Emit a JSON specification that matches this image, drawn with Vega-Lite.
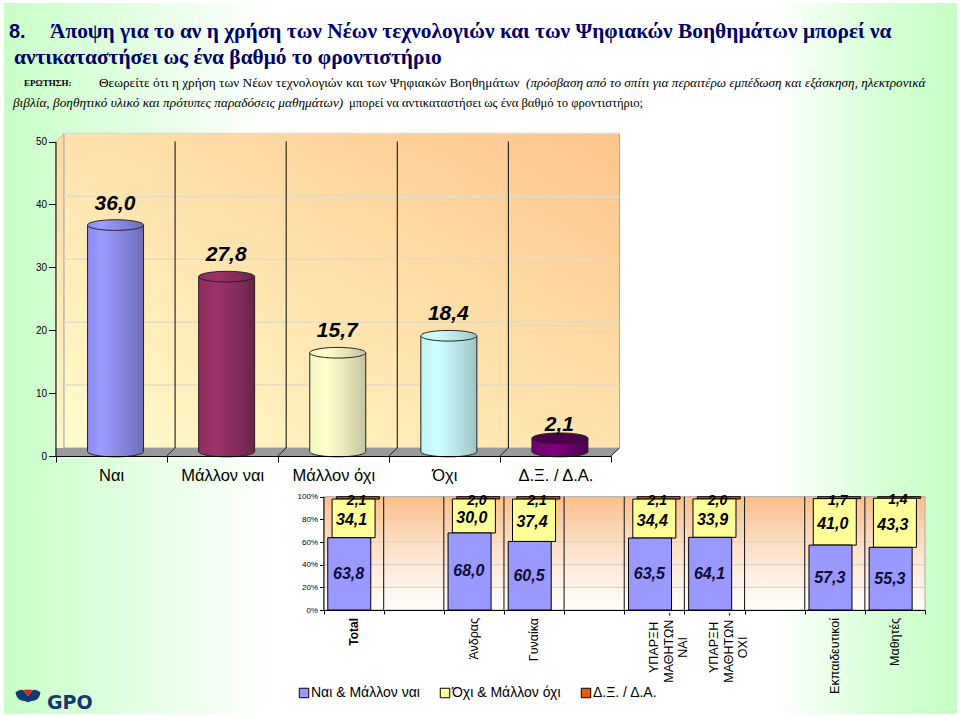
{
"$schema":"https://vega.github.io/schema/vega-lite/v6.json",
"width":960,"height":716,"padding":0,"autosize":{"type":"none"},"background":"white",
"config":{"view":{"stroke":null},"font":"Liberation Sans"},
"datasets":{
"summary":[{"c":"Ναι","v":36.0,"label":"36,0"},{"c":"Μάλλον ναι","v":27.8,"label":"27,8"},{"c":"Μάλλον όχι","v":15.7,"label":"15,7"},{"c":"Όχι","v":18.4,"label":"18,4"},{"c":"Δ.Ξ. / Δ.Α.","v":2.1,"label":"2,1"}],
"ticks50":[{"v":10},{"v":20},{"v":30},{"v":40},{"v":50}],
"edges5":[{"i":1},{"i":2},{"i":3},{"i":4}],
"breakdown":[
{"c":"Total","s":1,"series":"Ναι & Μάλλον ναι","v":63.8,"label":"63,8"},{"c":"Total","s":2,"series":"Όχι & Μάλλον όχι","v":34.1,"label":"34,1"},{"c":"Total","s":3,"series":"Δ.Ξ. / Δ.Α.","v":2.1,"label":"2,1"},
{"c":"Άνδρας","s":1,"series":"Ναι & Μάλλον ναι","v":68.0,"label":"68,0"},{"c":"Άνδρας","s":2,"series":"Όχι & Μάλλον όχι","v":30.0,"label":"30,0"},{"c":"Άνδρας","s":3,"series":"Δ.Ξ. / Δ.Α.","v":2.0,"label":"2,0"},
{"c":"Γυναίκα","s":1,"series":"Ναι & Μάλλον ναι","v":60.5,"label":"60,5"},{"c":"Γυναίκα","s":2,"series":"Όχι & Μάλλον όχι","v":37.4,"label":"37,4"},{"c":"Γυναίκα","s":3,"series":"Δ.Ξ. / Δ.Α.","v":2.1,"label":"2,1"},
{"c":"ΥΠΑΡΞΗ ΜΑΘΗΤΩΝ - ΝΑΙ","s":1,"series":"Ναι & Μάλλον ναι","v":63.5,"label":"63,5"},{"c":"ΥΠΑΡΞΗ ΜΑΘΗΤΩΝ - ΝΑΙ","s":2,"series":"Όχι & Μάλλον όχι","v":34.4,"label":"34,4"},{"c":"ΥΠΑΡΞΗ ΜΑΘΗΤΩΝ - ΝΑΙ","s":3,"series":"Δ.Ξ. / Δ.Α.","v":2.1,"label":"2,1"},
{"c":"ΥΠΑΡΞΗ ΜΑΘΗΤΩΝ - ΟΧΙ","s":1,"series":"Ναι & Μάλλον ναι","v":64.1,"label":"64,1"},{"c":"ΥΠΑΡΞΗ ΜΑΘΗΤΩΝ - ΟΧΙ","s":2,"series":"Όχι & Μάλλον όχι","v":33.9,"label":"33,9"},{"c":"ΥΠΑΡΞΗ ΜΑΘΗΤΩΝ - ΟΧΙ","s":3,"series":"Δ.Ξ. / Δ.Α.","v":2.0,"label":"2,0"},
{"c":"Εκπαιδευτικοί","s":1,"series":"Ναι & Μάλλον ναι","v":57.3,"label":"57,3"},{"c":"Εκπαιδευτικοί","s":2,"series":"Όχι & Μάλλον όχι","v":41.0,"label":"41,0"},{"c":"Εκπαιδευτικοί","s":3,"series":"Δ.Ξ. / Δ.Α.","v":1.7,"label":"1,7"},
{"c":"Μαθητές","s":1,"series":"Ναι & Μάλλον ναι","v":55.3,"label":"55,3"},{"c":"Μαθητές","s":2,"series":"Όχι & Μάλλον όχι","v":43.3,"label":"43,3"},{"c":"Μαθητές","s":3,"series":"Δ.Ξ. / Δ.Α.","v":1.4,"label":"1,4"}
],
"groups":[{"c":"Total","name":"Total","kind":"bold"},{"c":"Άνδρας","name":"Άνδρας","kind":"one"},{"c":"Γυναίκα","name":"Γυναίκα","kind":"one"},{"c":"ΥΠΑΡΞΗ ΜΑΘΗΤΩΝ - ΝΑΙ","name":"ΥΠΑΡΞΗ|ΜΑΘΗΤΩΝ -|ΝΑΙ","kind":"multi"},{"c":"ΥΠΑΡΞΗ ΜΑΘΗΤΩΝ - ΟΧΙ","name":"ΥΠΑΡΞΗ|ΜΑΘΗΤΩΝ -|ΟΧΙ","kind":"multi"},{"c":"Εκπαιδευτικοί","name":"Εκπαιδευτικοί","kind":"one"},{"c":"Μαθητές","name":"Μαθητές","kind":"one"}],
"ticks100":[{"v":20},{"v":40},{"v":60},{"v":80}],
"edges10":[{"i":1},{"i":2},{"i":3},{"i":4},{"i":5},{"i":6},{"i":7},{"i":8},{"i":9}]
},
"resolve":{"scale":{"x":"independent","y":"independent"},"axis":{"x":"independent","y":"independent"}},
"layer":[
{"data":{"values":[{}]},"mark":{"type":"rect","x":4,"x2":957,"y":3,"y2":714,"fill":{"gradient":"linear","x1":0,"y1":0,"x2":1,"y2":0,"stops":[{"offset":0,"color":"#c8ffc8"},{"offset":0.28,"color":"#ffffff"},{"offset":0.81,"color":"#ffffff"},{"offset":0.92,"color":"#d6ffd6"},{"offset":1,"color":"#c6ffc6"}]}},"encoding":{}},

{"layer":[
{"data":{"values":[{"px":0,"a":0,"b":50},{"px":0.0766,"a":1.27,"b":51.27}]},
 "mark":{"type":"area","fill":{"gradient":"linear","x1":0,"y1":1,"x2":0,"y2":0,"stops":[{"offset":0,"color":"#fff6c8"},{"offset":1,"color":"#fdd9a4"}]},"stroke":"#a8a090","strokeWidth":0.5},
 "encoding":{"x":{"field":"px","type":"quantitative","axis":null,"scale":{"domain":[0,5],"range":[55.5,611],"nice":false,"zero":false}},"y":{"field":"a","type":"quantitative","axis":null,"scale":{"domain":[0,50],"range":[456,141.5],"nice":false,"zero":false}},"y2":{"field":"b"}}},
{"data":{"values":[{}]},
 "mark":{"type":"rect","xOffset":8.5,"x2Offset":8.5,"yOffset":-8,"y2Offset":-8,"stroke":"#a8a8a8","strokeWidth":1,"fill":{"gradient":"linear","x1":0,"y1":1,"x2":1,"y2":0,"stops":[{"offset":0,"color":"#fffccc"},{"offset":0.5,"color":"#ffe2ad"},{"offset":1,"color":"#fcc48b"}]}},
 "encoding":{"x":{"datum":0,"type":"quantitative","axis":null},"x2":{"datum":5},"y":{"datum":0,"type":"quantitative","axis":null},"y2":{"datum":50}}},
{"data":{"name":"ticks50"},"mark":{"type":"rule","color":"#e2dcc4","strokeWidth":1.5,"xOffset":8.5,"x2Offset":8.5,"yOffset":-8},
 "encoding":{"x":{"datum":0,"type":"quantitative","axis":null},"x2":{"datum":5},"y":{"field":"v","type":"quantitative","axis":null}}},
{"data":{"values":[{"px":0,"a":1.27,"b":0},{"px":0.0766,"a":1.27,"b":0},{"px":5,"a":1.27,"b":0},{"px":5.0766,"a":1.27,"b":1.27}]},
 "mark":{"type":"area","fill":"#999999"},
 "encoding":{"x":{"field":"px","type":"quantitative","axis":null},"y":{"field":"a","type":"quantitative","axis":null},"y2":{"field":"b"}}},
{"data":{"name":"edges5"},"mark":{"type":"rule","color":"#1c1c1c","strokeWidth":1.1,"xOffset":8.5,"x2Offset":8.5,"yOffset":-8},
 "encoding":{"x":{"field":"i","type":"quantitative","axis":null},"y":{"datum":0,"type":"quantitative","axis":null},"y2":{"datum":50}}},
{"data":{"values":[{"i":1,"j":1.0766},{"i":2,"j":2.0766},{"i":3,"j":3.0766},{"i":4,"j":4.0766},{"i":5,"j":5.0766}]},"mark":{"type":"rule","color":"#222222","strokeWidth":1,"y2Offset":-8},
 "encoding":{"x":{"field":"i","type":"quantitative","axis":null},"x2":{"field":"j"},"y":{"datum":0,"type":"quantitative","axis":null},"y2":{"datum":0}}}
]},

{"data":{"name":"summary"},
 "encoding":{
  "x":{"field":"c","type":"nominal","sort":null,"title":null,"scale":{"type":"band","domain":["Ναι","Μάλλον ναι","Μάλλον όχι","Όχι","Δ.Ξ. / Δ.Α."],"range":[55.5,611],"paddingInner":0,"paddingOuter":0},"axis":{"orient":"bottom","offset":-260,"zindex":1,"tickBand":"extent","labelAngle":0,"labelFontSize":16.5,"labelColor":"#000000","labelPadding":5,"tickSize":6,"tickColor":"#000000","domainColor":"#000000","labelOverlap":false,"labelLimit":0,"labelFont":"Liberation Sans"}},
  "y":{"field":"v","type":"quantitative","title":null,"scale":{"domain":[0,50],"range":[456,141.5],"nice":false},"axis":{"orient":"left","offset":-55.5,"zindex":1,"values":[0,10,20,30,40,50],"grid":false,"labelFontSize":10,"labelColor":"#000000","tickSize":7,"labelPadding":2,"tickColor":"#000000","domainColor":"#000000"}},
  "fill":{"condition":[
   {"test":"datum.c==='Ναι'","value":{"gradient":"linear","x1":0,"y1":0,"x2":1,"y2":0,"stops":[{"offset":0,"color":"#8c8cf0"},{"offset":0.25,"color":"#9c9cff"},{"offset":0.7,"color":"#8080d8"},{"offset":1,"color":"#6c6cb4"}]}},
   {"test":"datum.c==='Μάλλον ναι'","value":{"gradient":"linear","x1":0,"y1":0,"x2":1,"y2":0,"stops":[{"offset":0,"color":"#8e2e60"},{"offset":0.3,"color":"#9c3366"},{"offset":0.7,"color":"#842c5a"},{"offset":1,"color":"#682448"}]}},
   {"test":"datum.c==='Μάλλον όχι'","value":{"gradient":"linear","x1":0,"y1":0,"x2":1,"y2":0,"stops":[{"offset":0,"color":"#f4f4c4"},{"offset":0.3,"color":"#ffffcc"},{"offset":0.7,"color":"#e0e0b4"},{"offset":1,"color":"#c4c4a0"}]}},
   {"test":"datum.c==='Όχι'","value":{"gradient":"linear","x1":0,"y1":0,"x2":1,"y2":0,"stops":[{"offset":0,"color":"#c4f4f4"},{"offset":0.3,"color":"#ccffff"},{"offset":0.7,"color":"#b4e0e0"},{"offset":1,"color":"#9cc4c8"}]}}
  ],"value":{"gradient":"linear","x1":0,"y1":0,"x2":1,"y2":0,"stops":[{"offset":0,"color":"#700070"},{"offset":0.4,"color":"#800080"},{"offset":1,"color":"#4c004c"}]}}
 },
 "layer":[
 {"mark":{"type":"point","filled":true,"opacity":1,"stroke":"#222222","strokeWidth":1,"size":3136,"xOffset":4.5,"yOffset":-4.5,"shape":"M-1,0A1,0.19,0,1,1,1,0A1,0.19,0,1,1,-1,0Z"},"encoding":{"y":{"datum":0,"type":"quantitative"}}},
 {"mark":{"type":"bar","width":56,"xOffset":4.5,"x2Offset":4.5,"yOffset":-4.5,"y2Offset":-4.5},"encoding":{"y2":{"datum":0}}},
 {"mark":{"type":"rule","color":"#222222","xOffset":-23.5,"yOffset":-4.5,"y2Offset":-4.5},"encoding":{"y2":{"datum":0},"fill":{"value":null}}},
 {"mark":{"type":"rule","color":"#222222","xOffset":32.5,"yOffset":-4.5,"y2Offset":-4.5},"encoding":{"y2":{"datum":0},"fill":{"value":null}}},
 {"mark":{"type":"point","filled":true,"opacity":1,"stroke":"#222222","strokeWidth":1,"size":3136,"xOffset":4.5,"yOffset":-4.5,"shape":"M-1,0A1,0.19,0,1,1,1,0A1,0.19,0,1,1,-1,0Z"},
  "encoding":{"fill":{"field":"c","type":"nominal","legend":null,"scale":{"domain":["Ναι","Μάλλον ναι","Μάλλον όχι","Όχι","Δ.Ξ. / Δ.Α."],"range":["#7878bc","#6e264e","#c8c8a8","#9cc4c8","#4a004a"]}}}},
 {"transform":[{"filter":"datum.v>5"}],"mark":{"type":"text","font":"Liberation Sans","fontWeight":"bold","fontStyle":"italic","fontSize":21,"xOffset":4,"yOffset":-26,"color":"#000000"},"encoding":{"text":{"field":"label"},"fill":{"value":"#000000"}}},
 {"transform":[{"filter":"datum.v<=5"}],"mark":{"type":"text","font":"Liberation Sans","fontWeight":"bold","fontStyle":"italic","fontSize":21,"xOffset":4,"yOffset":-18,"color":"#000000"},"encoding":{"text":{"field":"label"},"fill":{"value":"#000000"}}}
 ]},

{"layer":[
{"data":{"values":[{}]},"mark":{"type":"rect","stroke":"#b0a8a0","strokeWidth":1,"fill":{"gradient":"linear","x1":0,"y1":0,"x2":0,"y2":1,"stops":[{"offset":0,"color":"#fcc08a"},{"offset":0.45,"color":"#fde0c8"},{"offset":1,"color":"#ffffff"}]}},
 "encoding":{"x":{"datum":0,"type":"quantitative","axis":null,"scale":{"domain":[0,10],"range":[323.5,925],"nice":false,"zero":false}},"x2":{"datum":10},"y":{"datum":0,"type":"quantitative","axis":null,"scale":{"domain":[0,100],"range":[610,496.7],"nice":false,"zero":false}},"y2":{"datum":100}}},
{"data":{"name":"ticks100"},"mark":{"type":"rule","color":"#d8d2ca","strokeWidth":1.2},"encoding":{"x":{"datum":0,"type":"quantitative","axis":null},"x2":{"datum":10},"y":{"field":"v","type":"quantitative","axis":null}}},
{"data":{"name":"edges10"},"mark":{"type":"rule","color":"#222222","strokeWidth":1.1},"encoding":{"x":{"field":"i","type":"quantitative","axis":null},"y":{"datum":0,"type":"quantitative","axis":null},"y2":{"datum":100}}}
]},

{"data":{"name":"breakdown"},
 "transform":[{"stack":"v","groupby":["c"],"sort":[{"field":"s","order":"ascending"}],"as":["y0","y1"]},{"calculate":"(datum.y0+datum.y1)/2","as":"mid"}],
 "encoding":{
  "x":{"field":"c","type":"nominal","sort":null,"title":null,"scale":{"type":"band","domain":["Total","κενό 1","Άνδρας","Γυναίκα","κενό 2","ΥΠΑΡΞΗ ΜΑΘΗΤΩΝ - ΝΑΙ","ΥΠΑΡΞΗ ΜΑΘΗΤΩΝ - ΟΧΙ","κενό 3","Εκπαιδευτικοί","Μαθητές"],"range":[323.5,925],"paddingInner":0,"paddingOuter":0},"axis":{"orient":"bottom","offset":-106,"zindex":1,"tickBand":"extent","labels":false,"tickSize":4,"tickColor":"#000000","domainColor":"#000000"}},
  "y":{"field":"y1","type":"quantitative","title":null,"stack":null,"scale":{"domain":[0,100],"range":[610,496.7],"nice":false},"axis":{"orient":"left","offset":-323.5,"zindex":1,"values":[0,20,40,60,80,100],"grid":false,"labelExpr":"datum.value+'%'","labelFontSize":8,"labelColor":"#000000","tickSize":4,"labelPadding":2,"tickColor":"#000000","domainColor":"#000000"}}
 },
 "layer":[
 {"transform":[{"filter":"datum.s===3"}],"mark":{"type":"bar","width":43,"xOffset":4.3,"x2Offset":4.3,"stroke":"#000000","strokeWidth":1},"encoding":{"y2":{"field":"y0"},"color":{"field":"series","type":"nominal","scale":{"domain":["Ναι & Μάλλον ναι","Όχι & Μάλλον όχι","Δ.Ξ. / Δ.Α."],"range":["#9999ff","#ffff99","#e85c00"]},"sort":null,"legend":{"orient":"none","legendX":297,"legendY":686,"direction":"horizontal","title":null,"symbolType":"square","symbolSize":90,"symbolStrokeColor":"#000000","symbolStrokeWidth":1,"labelFontSize":14,"labelColor":"#000000","labelFont":"Liberation Sans","columnPadding":18,"labelLimit":0,"labelOffset":0}}}},
 {"transform":[{"filter":"datum.s===2"}],"mark":{"type":"bar","width":43,"stroke":"#000000","strokeWidth":1},"encoding":{"y2":{"field":"y0"},"color":{"field":"series","type":"nominal"}}},
 {"transform":[{"filter":"datum.s===1"}],"mark":{"type":"bar","width":43,"xOffset":-4.3,"x2Offset":-4.3,"stroke":"#000000","strokeWidth":1},"encoding":{"y2":{"field":"y0"},"color":{"field":"series","type":"nominal"}}},
 {"transform":[{"filter":"datum.s===1"}],"mark":{"type":"text","font":"Liberation Sans","fontWeight":"bold","fontStyle":"italic","fontSize":16,"xOffset":-5,"color":"#0c0c38"},"encoding":{"y":{"field":"mid","type":"quantitative"},"text":{"field":"label"}}},
 {"transform":[{"filter":"datum.s===2"}],"mark":{"type":"text","font":"Liberation Sans","fontWeight":"bold","fontStyle":"italic","fontSize":16,"xOffset":-2,"yOffset":2,"color":"#000000"},"encoding":{"y":{"field":"mid","type":"quantitative"},"text":{"field":"label"}}},
 {"transform":[{"filter":"datum.s===3"}],"mark":{"type":"text","font":"Liberation Sans","fontWeight":"bold","fontStyle":"italic","fontSize":14,"xOffset":3,"yOffset":3,"color":"#000000"},"encoding":{"y":{"field":"mid","type":"quantitative"},"text":{"field":"label"}}}
 ]},

{"data":{"name":"groups"},
 "encoding":{
  "x":{"field":"c","type":"nominal","sort":null,"axis":null,"scale":{"type":"band","domain":["Total","κενό 1","Άνδρας","Γυναίκα","κενό 2","ΥΠΑΡΞΗ ΜΑΘΗΤΩΝ - ΝΑΙ","ΥΠΑΡΞΗ ΜΑΘΗΤΩΝ - ΟΧΙ","κενό 3","Εκπαιδευτικοί","Μαθητές"],"range":[323.5,925],"paddingInner":0,"paddingOuter":0}},
  "text":{"field":"name"}
 },
 "layer":[
 {"transform":[{"filter":"datum.kind==='bold'"}],"mark":{"type":"text","angle":270,"align":"right","baseline":"middle","fontWeight":"bold","fontSize":12,"font":"Liberation Sans","color":"#000000"},"encoding":{"y":{"datum":-7,"type":"quantitative","axis":null,"scale":{"domain":[0,100],"range":[610,496.7],"nice":false,"zero":false}}}},
 {"transform":[{"filter":"datum.kind==='one'"}],"mark":{"type":"text","angle":270,"align":"right","baseline":"middle","fontSize":12.5,"font":"Liberation Sans","color":"#000000"},"encoding":{"y":{"datum":-7,"type":"quantitative","axis":null}}},
 {"transform":[{"filter":"datum.kind==='multi'"}],"mark":{"type":"text","angle":270,"align":"center","baseline":"middle","lineBreak":"|","lineHeight":14.5,"fontSize":12.5,"font":"Liberation Sans","color":"#000000"},"encoding":{"y":{"datum":-33,"type":"quantitative","axis":null}}}
 ]},

{"data":{"values":[{"t":"8."}]},"mark":{"type":"text","x":9,"y":32,"align":"left","font":"Liberation Sans","fontWeight":"bold","fontSize":20,"color":"#000066"},"encoding":{"text":{"field":"t"}}},
{"data":{"values":[{"t":"Άποψη για το αν η χρήση των Νέων τεχνολογιών και των Ψηφιακών Βοηθημάτων μπορεί να"}]},"mark":{"type":"text","x":50,"y":32,"align":"left","font":"Liberation Serif","fontWeight":"bold","fontSize":21.4,"color":"#000066"},"encoding":{"text":{"field":"t"}}},
{"data":{"values":[{"t":"αντικαταστήσει ως ένα βαθμό το φροντιστήριο"}]},"mark":{"type":"text","x":14,"y":58,"align":"left","font":"Liberation Serif","fontWeight":"bold","fontSize":21.4,"color":"#000066"},"encoding":{"text":{"field":"t"}}},
{"data":{"values":[{"t":"ΕΡΩΤΗΣΗ:"}]},"mark":{"type":"text","x":24,"y":83,"align":"left","font":"Liberation Serif","fontWeight":"bold","fontSize":9,"color":"#000000"},"encoding":{"text":{"field":"t"}}},
{"data":{"values":[{"t":"Θεωρείτε ότι η χρήση των Νέων τεχνολογιών και των Ψηφιακών Βοηθημάτων"}]},"mark":{"type":"text","x":99,"y":83,"align":"left","font":"Liberation Serif","fontSize":13.3,"color":"#000000"},"encoding":{"text":{"field":"t"}}},
{"data":{"values":[{"t":"(πρόσβαση από το σπίτι για περαιτέρω εμπέδωση και εξάσκηση, ηλεκτρονικά"}]},"mark":{"type":"text","x":526,"y":83,"align":"left","font":"Liberation Serif","fontStyle":"italic","fontSize":13.2,"color":"#000000"},"encoding":{"text":{"field":"t"}}},
{"data":{"values":[{"t":"βιβλία, βοηθητικό υλικό και πρότυπες παραδόσεις μαθημάτων)"}]},"mark":{"type":"text","x":13,"y":103,"align":"left","font":"Liberation Serif","fontStyle":"italic","fontSize":13.3,"color":"#000000"},"encoding":{"text":{"field":"t"}}},
{"data":{"values":[{"t":"μπορεί να αντικαταστήσει ως ένα βαθμό το φροντιστήριο;"}]},"mark":{"type":"text","x":349,"y":103,"align":"left","font":"Liberation Serif","fontSize":12.6,"color":"#000000"},"encoding":{"text":{"field":"t"}}},

{"data":{"values":[{}]},"mark":{"type":"point","x":28,"y":696,"size":625,"filled":true,"opacity":1,"color":"#123a6e","strokeWidth":0,"shape":"M-1,-0.3Q-0.6,-0.6,-0.35,-0.45L0,0L0.35,-0.45Q0.6,-0.6,1,-0.3Q0.9,0.3,0.5,0.35Q0.2,0.4,0,0.5Q-0.2,0.4,-0.5,0.35Q-0.9,0.3,-1,-0.3Z"},"encoding":{}},
{"data":{"values":[{}]},"mark":{"type":"point","x":28,"y":696,"size":625,"filled":true,"opacity":1,"color":"#e02020","strokeWidth":0,"shape":"M-0.38,-0.5L0.38,-0.5L0,0Z"},"encoding":{}},
{"data":{"values":[{"t":"GPO"}]},"mark":{"type":"text","x":47,"y":703,"align":"left","font":"DejaVu Sans","fontWeight":"bold","fontSize":19,"color":"#123a6e"},"encoding":{"text":{"field":"t"}}}
]
}
